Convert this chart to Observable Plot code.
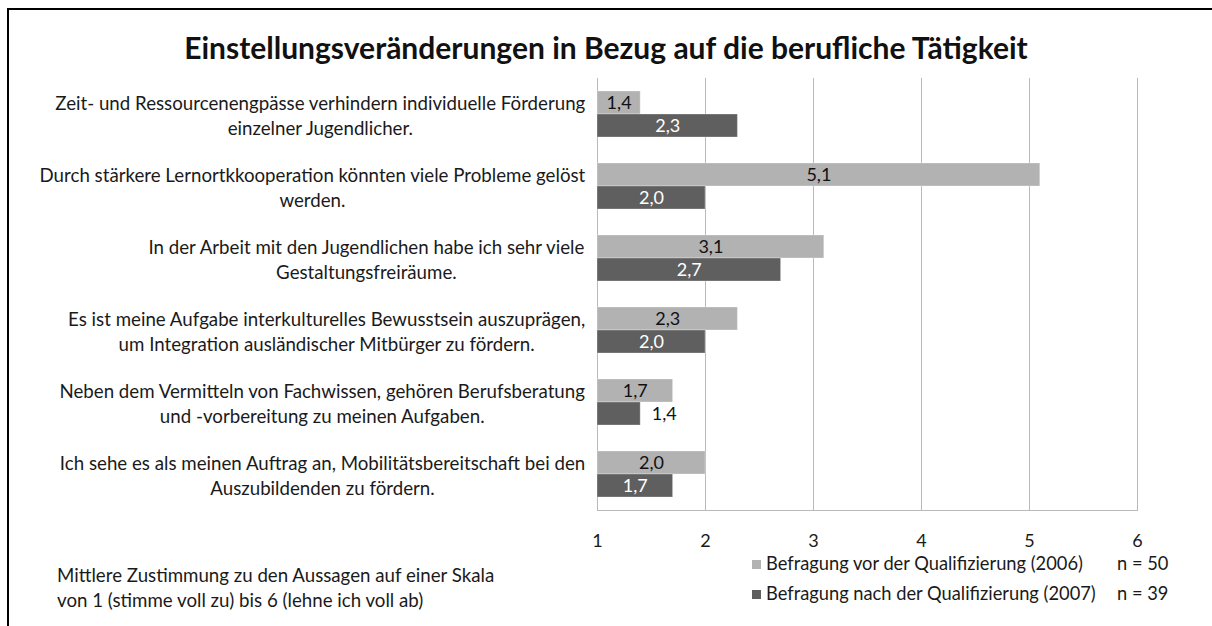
<!DOCTYPE html>
<html>
<head>
<meta charset="utf-8">
<script src="https://cdn.jsdelivr.net/npm/d3@7"></script>
<script src="https://cdn.jsdelivr.net/npm/@observablehq/plot@0.6"></script>
<style>
  html, body { margin: 0; padding: 0; background: #fff; }
  #wrap { position: relative; width: 1212px; height: 626px; overflow: hidden; background: #fff; font-family: Lato, "Open Sans", sans-serif; color: #1a1a1a; }
  #border { position: absolute; left: 7px; top: 8px; width: 1400px; height: 800px; border-left: 2.5px solid #000; border-top: 2.5px solid #000; }
  #title { position: absolute; left: 0; top: 29px; width: 1212px; text-align: center; font-weight: 700; font-size: 30px; line-height: 36px; color: #111; }
  #chart { position: absolute; left: 0; top: 0; }
  #caption { position: absolute; left: 57px; top: 563px; font-size: 18.7px; line-height: 25px; color: #1a1a1a; white-space: nowrap; }
  .lg { position: absolute; left: 752px; font-size: 18.3px; line-height: 20px; white-space: nowrap; color: #1a1a1a; }
  .lg .sw { display: inline-block; width: 9px; height: 9px; margin-right: 5px; vertical-align: 1px; }
  .lg .n { position: absolute; left: 365px; top: 0; }
</style>
</head>
<body>
<div id="wrap">
  <div id="border"></div>
  <div id="title"></div>
  <div id="chart"></div>
  <div id="caption"></div>
  <div id="legend"></div>
</div>
<script>
// ---- data ----
const titleText = "Einstellungsveränderungen in Bezug auf die berufliche Tätigkeit";
const categories = [
  "Zeit- und Ressourcenengpässe verhindern individuelle Förderung\neinzelner Jugendlicher.",
  "Durch stärkere Lernortkkooperation könnten viele Probleme gelöst\nwerden.",
  "In der Arbeit mit den Jugendlichen habe ich sehr viele\nGestaltungsfreiräume.",
  "Es ist meine Aufgabe interkulturelles Bewusstsein auszuprägen,\num Integration ausländischer Mitbürger zu fördern.",
  "Neben dem Vermitteln von Fachwissen, gehören Berufsberatung\nund -vorbereitung zu meinen Aufgaben.",
  "Ich sehe es als meinen Auftrag an, Mobilitätsbereitschaft bei den\nAuszubildenden zu fördern."
];
const seriesNames = ["Befragung vor der Qualifizierung (2006)", "Befragung nach der Qualifizierung (2007)"];
const seriesN = ["n = 50", "n = 39"];
const seriesColors = ["#b2b2b2", "#5f5f5f"];
const labelColors = ["#111111", "#ffffff"];
const before2006 = [1.4, 5.1, 3.1, 2.3, 1.7, 2.0];
const after2007 = [2.3, 2.0, 2.7, 2.0, 1.4, 1.7];
const xTicks = [1, 2, 3, 4, 5, 6];
const captionLines = ["Mittlere Zustimmung zu den Aussagen auf einer Skala", "von 1 (stimme voll zu) bis 6 (lehne ich voll ab)"];

// ---- table ----
const data = [];
categories.forEach((c, i) => {
  data.push({category: c, series: seriesNames[0], value: before2006[i], si: 0});
  data.push({category: c, series: seriesNames[1], value: after2007[i], si: 1});
});
const baseline = xTicks[0];
const fmt = v => d3.format(".1f")(v).replace(".", ",");
const fitsInside = d => !(d.si === 1 && d.value - baseline < 0.5);

const FONT = "Lato, 'Open Sans', sans-serif";
const LABEL_SIZE = 18.7;
const LABEL_PAD = 12;

// measure widest line of each category label, so each label is a centred block ending at the axis
const ctx = document.createElement("canvas").getContext("2d");
ctx.font = `${LABEL_SIZE}px Lato, 'Open Sans', sans-serif`;
const blockWidth = c => Math.max(...c.split("\n").map(l => ctx.measureText(l).width));

const categoryLabelMarks = categories.map(c =>
  Plot.text([c], {
    fy: d => d, text: d => d, frameAnchor: "left", textAnchor: "middle",
    dx: -(LABEL_PAD + blockWidth(c) / 2), lineHeight: 1.34, fontSize: LABEL_SIZE, fill: "#1a1a1a"
  })
);

const chart = Plot.plot({
  width: 1212,
  height: 626,
  marginLeft: 597,
  marginRight: 75,
  marginTop: 77,
  marginBottom: 116,
  style: {fontFamily: FONT, fontSize: "18px", color: "#1a1a1a", background: "transparent"},
  x: {domain: [xTicks[0], xTicks[xTicks.length - 1]], axis: null},
  fy: {domain: categories, padding: 0, axis: null},
  y: {domain: seriesNames, paddingInner: 0, paddingOuter: 0.547, axis: null},
  color: {domain: seriesNames, range: seriesColors},
  marks: [
    Plot.gridX(xTicks, {stroke: "#b9b9b9", strokeOpacity: 1, strokeWidth: 1}),
    Plot.frame({anchor: "bottom", stroke: "#b9b9b9", facetAnchor: "bottom"}),
    Plot.barX(data, {fy: "category", y: "series", x1: baseline, x2: "value", fill: "series", stroke: "#ffffff", strokeOpacity: 0.3, strokeWidth: 1}),
    Plot.text(data.filter(fitsInside), {fy: "category", y: "series", x: d => (baseline + d.value) / 2, text: d => fmt(d.value), fill: d => labelColors[d.si], fontSize: 18}),
    Plot.text(data.filter(d => !fitsInside(d)), {fy: "category", y: "series", x: "value", text: d => fmt(d.value), fill: "#111", fontSize: 18, textAnchor: "start", dx: 11}),
    ...categoryLabelMarks,
    Plot.axisX(xTicks, {label: null, tickSize: 0, tickPadding: 24, fontSize: 18, facetAnchor: "bottom", fill: "#1a1a1a"})
  ]
});

document.getElementById("chart").appendChild(chart);
document.getElementById("title").textContent = titleText;
document.getElementById("caption").innerHTML = captionLines.map(s => `<div>${s}</div>`).join("");
document.getElementById("legend").innerHTML = seriesNames.map((s, i) =>
  `<div class="lg" style="top:${553 + i * 30}px"><span class="sw" style="background:${seriesColors[i]}"></span>${s}<span class="n">${seriesN[i]}</span></div>`
).join("");
</script>
</body>
</html>
